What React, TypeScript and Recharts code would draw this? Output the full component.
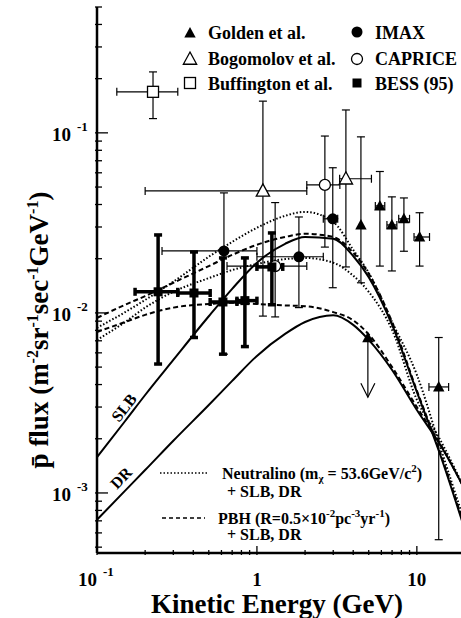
import React from 'react'
import { ComposedChart, Line, Scatter, XAxis, YAxis, ErrorBar } from 'recharts'

// model curves, sampled on one energy grid (GeV)
const curveEnergy = [0.1, 0.15, 0.2, 0.3, 0.5, 0.7, 1, 1.5, 2, 3, 4, 5, 7, 10, 14, 20]
const slbFlux = [0.00158, 0.00251, 0.0035, 0.00548, 0.00958, 0.0136, 0.019, 0.0242, 0.0264, 0.0258, 0.0207, 0.0158, 0.00858, 0.00364, 0.00163, 0.00062]
const drFlux = [0.00071, 0.00103, 0.00134, 0.00195, 0.00308, 0.00419, 0.00577, 0.00764, 0.0089, 0.0097, 0.00858, 0.00708, 0.00482, 0.00289, 0.00185, 0.00104]
const neutralinoSlbFlux = [0.00826, 0.0101, 0.0118, 0.0149, 0.0205, 0.0248, 0.0297, 0.0346, 0.0364, 0.032, 0.0224, 0.0167, 0.0089, 0.00453, 0.0018, 0.00068]
const neutralinoDrFlux = [0.00708, 0.0089, 0.0107, 0.0131, 0.0156, 0.0173, 0.0187, 0.0199, 0.0202, 0.019, 0.0161, 0.0131, 0.00805, 0.00329, 0.00197, 0.00104]
const pbhSlbFlux = [0.00938, 0.0111, 0.0124, 0.0147, 0.0182, 0.021, 0.0239, 0.0264, 0.0275, 0.0264, 0.0216, 0.0165, 0.0089, 0.0037, 0.00167, 0.00064]
const pbhDrFlux = [0.00784, 0.0089, 0.00975, 0.0107, 0.0112, 0.0114, 0.0112, 0.011, 0.0109, 0.0101, 0.0091, 0.0076, 0.005, 0.003, 0.00187, 0.00104]

// measurements: energy, flux, energy range, flux range
const goldenE = [4.47, 5.87, 6.98, 8.3, 10.4, 13.7]
const goldenF = [0.0308, 0.0393, 0.0308, 0.0333, 0.0264, 0.00388]
const goldenELo = [4.47, 5.5, 6.5, 7.7, 9.6, 11.9]
const goldenEHi = [4.47, 6.3, 7.5, 9.0, 12, 15.8]
const goldenFLo = [0.0147, 0.0182, 0.0171, 0.022, 0.0182, 0.00055]
const goldenFHi = [0.095, 0.061, 0.0441, 0.0435, 0.036, 0.0073]

const goldenLimitE = [4.94]
const goldenLimitF = [0.00727]
const goldenLimitTo = [0.0034]

const imaxE = [0.622, 1.83, 2.98]
const imaxF = [0.0221, 0.0205, 0.0333]
const imaxELo = [0.255, 1.0, 2.6]
const imaxEHi = [1.0, 2.6, 3.2]
const imaxFLo = [0.0059, 0.0107, 0.0138]
const imaxFHi = [0.0464, 0.0341, 0.064]

const bogomolovE = [1.09, 3.6]
const bogomolovF = [0.0476, 0.0556]
const bogomolovELo = [0.2, 3.29]
const bogomolovEHi = [2.05, 5.2]
const bogomolovFLo = [0.0096, 0.018]
const bogomolovFHi = [0.15, 0.134]

const capriceE = [1.3, 2.66]
const capriceF = [0.0182, 0.0514]
const capriceELo = [0.65, 2.05]
const capriceEHi = [2.05, 3.3]
const capriceFLo = [0.0095, 0.0232]
const capriceFHi = [0.041, 0.096]

const buffingtonE = [0.224]
const buffingtonF = [0.169]
const buffingtonELo = [0.133]
const buffingtonEHi = [0.32]
const buffingtonFLo = [0.12]
const buffingtonFHi = [0.218]

const bessE = [0.241, 0.404, 0.613, 0.841, 1.24]
const bessF = [0.0131, 0.0129, 0.0115, 0.0117, 0.018]
const bessELo = [0.173, 0.32, 0.51, 0.75, 1.0]
const bessEHi = [0.32, 0.51, 0.75, 1.0, 1.45]
const bessFLo = [0.0052, 0.0073, 0.0059, 0.0065, 0.0111]
const bessFHi = [0.0271, 0.0218, 0.0202, 0.0202, 0.0278]

// axis ticks
const xTicks = [0.1, 0.2, 0.3, 0.4, 0.5, 0.6, 0.7, 0.8, 0.9, 1, 2, 3, 4, 5, 6, 7, 8, 9, 10, 20]
const xMajor = [0.1, 1, 10]
const xMajorBase = ['10', '1', '10']
const xMajorExp = ['-1', '', '']
const yTicks = [0.0005, 0.0006, 0.0007, 0.0008, 0.0009, 0.001, 0.002, 0.003, 0.004, 0.005, 0.006, 0.007, 0.008, 0.009,
  0.01, 0.02, 0.03, 0.04, 0.05, 0.06, 0.07, 0.08, 0.09, 0.1, 0.2, 0.3, 0.4, 0.5]
const yMajor = [0.001, 0.01, 0.1]
const yMajorBase = ['10', '10', '10']
const yMajorExp = ['-3', '-2', '-1']

const FONT = '"Liberation Serif", "Times New Roman", serif'

const curve = (flux: number[]) => curveEnergy.map((x, i) => ({ x, y: flux[i] }))

const points = (e: number[], f: number[], eLo: number[], eHi: number[], fLo: number[], fHi: number[]) =>
  e.map((x, i) => ({
    x,
    y: f[i],
    ex: [x - eLo[i], eHi[i] - x],
    ey: [f[i] - fLo[i], fHi[i] - f[i]],
  }))

const goldenData = points(goldenE, goldenF, goldenELo, goldenEHi, goldenFLo, goldenFHi)
const imaxData = points(imaxE, imaxF, imaxELo, imaxEHi, imaxFLo, imaxFHi)
const bogomolovData = points(bogomolovE, bogomolovF, bogomolovELo, bogomolovEHi, bogomolovFLo, bogomolovFHi)
const capriceData = points(capriceE, capriceF, capriceELo, capriceEHi, capriceFLo, capriceFHi)
const buffingtonData = points(buffingtonE, buffingtonF, buffingtonELo, buffingtonEHi, buffingtonFLo, buffingtonFHi)
const bessData = points(bessE, bessF, bessELo, bessEHi, bessFLo, bessFHi)
const limitData = goldenLimitE.map((x, i) => ({ x, y: goldenLimitF[i], ey: [goldenLimitF[i] - goldenLimitTo[i], 0] }))
const arrowData = goldenLimitE.map((x, i) => ({ x, y: goldenLimitTo[i] }))

const triPath = (cx: number, cy: number, r: number) =>
  `M${cx},${cy - r} L${cx + r * 0.95},${cy + r * 0.75} L${cx - r * 0.95},${cy + r * 0.75} Z`

const FilledTri = ({ cx, cy }: any) => <path d={triPath(cx, cy, 6)} fill="#000" />
const OpenTri = ({ cx, cy }: any) => <path d={triPath(cx, cy, 7)} fill="#fff" stroke="#000" strokeWidth={1.3} />
const FilledDot = ({ cx, cy }: any) => <circle cx={cx} cy={cy} r={5.5} fill="#000" />
const OpenDot = ({ cx, cy }: any) => <circle cx={cx} cy={cy} r={5.5} fill="#fff" stroke="#000" strokeWidth={1.3} />
const OpenSquare = ({ cx, cy }: any) => <rect x={cx - 5.5} y={cy - 5.5} width={11} height={11} fill="#fff" stroke="#000" strokeWidth={1.3} />
const FilledSquare = ({ cx, cy }: any) => <rect x={cx - 4.5} y={cy - 4.5} width={9} height={9} fill="#000" />
const ArrowHead = ({ cx, cy }: any) => (
  <path d={`M${cx - 7},${cy - 14} L${cx},${cy} L${cx + 7},${cy - 14}`} fill="none" stroke="#000" strokeWidth={1.2} />
)

function XTick({ x, y, payload }: any) {
  const i = xMajor.indexOf(payload.value)
  const major = i >= 0
  return (
    <g>
      <line x1={x} x2={x} y1={y} y2={y - (major ? 9 : 5)} stroke="#000" strokeWidth={1.3} />
      {major && (xMajorExp[i] ? (
        <text x={x - 19} y={y + 31} fontFamily={FONT} fontWeight="bold" fontSize={19} fill="#000">
          {xMajorBase[i]}
          <tspan dx={6} dy={-10} fontSize={13}>{xMajorExp[i]}</tspan>
        </text>
      ) : (
        <text x={x} y={y + 31} textAnchor="middle" fontFamily={FONT} fontWeight="bold" fontSize={19} fill="#000">
          {xMajorBase[i]}
        </text>
      ))}
    </g>
  )
}

function YTick({ x, y, payload }: any) {
  const i = yMajor.indexOf(payload.value)
  const major = i >= 0
  return (
    <g>
      <line x1={x} x2={x + (major ? 13 : 7)} y1={y} y2={y} stroke="#000" strokeWidth={1.3} />
      {major && (
        <text x={52} y={y + 8} fontFamily={FONT} fontWeight="bold" fontSize={19} fill="#000">
          {yMajorBase[i]}
          <tspan dx={6} dy={-10} fontSize={13}>{yMajorExp[i]}</tspan>
        </text>
      )}
    </g>
  )
}

const bold = { fontFamily: FONT, fontWeight: 'bold' as const, fill: '#000' }

function Overlay() {
  return (
    <svg width={461} height={618} style={{ position: 'absolute', left: 0, top: 0, pointerEvents: 'none' }}>
      {/* marker legend */}
      <g {...bold} fontSize={18}>
        <FilledTri cx={190} cy={33} />
        <text x={208} y={39}>Golden et al.</text>
        <FilledDot cx={357} cy={32} />
        <text x={375} y={39}>IMAX</text>
        <OpenTri cx={190} cy={59} />
        <text x={208} y={65}>Bogomolov et al.</text>
        <OpenDot cx={357} cy={59} />
        <text x={375} y={65}>CAPRICE</text>
        <OpenSquare cx={190} cy={83} />
        <text x={208} y={90}>Buffington et al.</text>
        <FilledSquare cx={357} cy={83} />
        <text x={375} y={90}>BESS (95)</text>
      </g>
      {/* line legend */}
      <line x1={160} x2={208} y1={473} y2={473} stroke="#000" strokeWidth={1.6} strokeDasharray="1.5 2" />
      <text x={222} y={479} {...bold} fontSize={16}>
        Neutralino (m<tspan dy={3} fontSize={11}>χ</tspan><tspan dy={-3}> = 53.6GeV/c</tspan>
        <tspan dy={-7} fontSize={11}>2</tspan><tspan dy={7}>)</tspan>
      </text>
      <text x={227} y={497} {...bold} fontSize={16}>+ SLB, DR</text>
      <line x1={162} x2={205} y1={518} y2={518} stroke="#000" strokeWidth={1.6} strokeDasharray="4 3" />
      <text x={218} y={524} {...bold} fontSize={16}>
        PBH (R=0.5×10<tspan dy={-7} fontSize={11}>-2</tspan><tspan dy={7}>pc</tspan>
        <tspan dy={-7} fontSize={11}>-3</tspan><tspan dy={7}>yr</tspan>
        <tspan dy={-7} fontSize={11}>-1</tspan><tspan dy={7}>)</tspan>
      </text>
      <text x={227} y={540} {...bold} fontSize={16}>+ SLB, DR</text>
      {/* curve labels */}
      <text x={0} y={0} {...bold} fontSize={16} transform="translate(119,423) rotate(-52)">SLB</text>
      <text x={0} y={0} {...bold} fontSize={16} transform="translate(117,490) rotate(-46)">DR</text>
      {/* axis titles */}
      <text x={277} y={613} textAnchor="middle" {...bold} fontSize={27}>Kinetic Energy (GeV)</text>
      <text x={0} y={0} textAnchor="middle" {...bold} fontSize={27} transform="translate(48,330) rotate(-90)">
        p̄ flux (m<tspan dy={-10} fontSize={16}>-2</tspan><tspan dy={10}>sr</tspan>
        <tspan dy={-10} fontSize={16}>-1</tspan><tspan dy={10}>sec</tspan>
        <tspan dy={-10} fontSize={16}>-1</tspan><tspan dy={10}>GeV</tspan>
        <tspan dy={-10} fontSize={16}>-1</tspan><tspan dy={10}>)</tspan>
      </text>
    </svg>
  )
}

export default function App() {
  const thin = { stroke: '#000', strokeWidth: 1.2 }
  return (
    <div style={{ position: 'absolute', left: 0, top: 0, width: 461, height: 618, overflow: 'hidden', background: '#fff' }}>
      <ComposedChart width={465} height={618} margin={{ top: 7, right: 0, bottom: 0, left: 0 }}>
        <XAxis
          dataKey="x"
          type="number"
          scale="log"
          domain={[0.1, 20]}
          allowDataOverflow
          ticks={xTicks}
          interval={0}
          tick={<XTick />}
          tickLine={false}
          tickSize={0}
          height={65}
          axisLine={{ stroke: '#000', strokeWidth: 2.5 }}
        />
        <XAxis
          xAxisId="top"
          orientation="top"
          dataKey="x"
          type="number"
          scale="log"
          domain={[0.1, 20]}
          allowDataOverflow
          tick={false}
          tickLine={false}
          height={0}
          axisLine={{ stroke: '#000', strokeWidth: 2.5 }}
        />
        <YAxis
          dataKey="y"
          type="number"
          scale="log"
          domain={[0.000464, 0.5]}
          allowDataOverflow
          ticks={yTicks}
          interval={0}
          tick={<YTick />}
          tickLine={false}
          tickSize={0}
          width={97}
          axisLine={{ stroke: '#000', strokeWidth: 2.5 }}
        />

        <Line data={curve(slbFlux)} dataKey="y" type="monotone" stroke="#000" strokeWidth={2} dot={false} isAnimationActive={false} />
        <Line data={curve(drFlux)} dataKey="y" type="monotone" stroke="#000" strokeWidth={2} dot={false} isAnimationActive={false} />
        <Line data={curve(neutralinoSlbFlux)} dataKey="y" type="monotone" stroke="#000" strokeWidth={2} strokeDasharray="1.5 2" dot={false} isAnimationActive={false} />
        <Line data={curve(neutralinoDrFlux)} dataKey="y" type="monotone" stroke="#000" strokeWidth={2} strokeDasharray="1.5 2" dot={false} isAnimationActive={false} />
        <Line data={curve(pbhSlbFlux)} dataKey="y" type="monotone" stroke="#000" strokeWidth={2} strokeDasharray="5 3" dot={false} isAnimationActive={false} />
        <Line data={curve(pbhDrFlux)} dataKey="y" type="monotone" stroke="#000" strokeWidth={2} strokeDasharray="5 3" dot={false} isAnimationActive={false} />

        <Scatter data={buffingtonData} shape={<OpenSquare />} isAnimationActive={false}>
          <ErrorBar dataKey="ex" direction="x" width={4} {...thin} />
          <ErrorBar dataKey="ey" direction="y" width={4} {...thin} />
        </Scatter>
        <Scatter data={bogomolovData} shape={<OpenTri />} isAnimationActive={false}>
          <ErrorBar dataKey="ex" direction="x" width={4} {...thin} />
          <ErrorBar dataKey="ey" direction="y" width={4} {...thin} />
        </Scatter>
        <Scatter data={capriceData} shape={<OpenDot />} isAnimationActive={false}>
          <ErrorBar dataKey="ex" direction="x" width={4} {...thin} />
          <ErrorBar dataKey="ey" direction="y" width={4} {...thin} />
        </Scatter>
        <Scatter data={imaxData} shape={<FilledDot />} isAnimationActive={false}>
          <ErrorBar dataKey="ex" direction="x" width={4} {...thin} />
          <ErrorBar dataKey="ey" direction="y" width={4} {...thin} />
        </Scatter>
        <Scatter data={goldenData} shape={<FilledTri />} isAnimationActive={false}>
          <ErrorBar dataKey="ex" direction="x" width={4} {...thin} />
          <ErrorBar dataKey="ey" direction="y" width={4} {...thin} />
        </Scatter>
        <Scatter data={limitData} shape={<FilledTri />} isAnimationActive={false}>
          <ErrorBar dataKey="ey" direction="y" width={0} {...thin} />
        </Scatter>
        <Scatter data={arrowData} shape={<ArrowHead />} isAnimationActive={false} />
        <Scatter data={bessData} shape={<FilledSquare />} isAnimationActive={false}>
          <ErrorBar dataKey="ex" direction="x" width={4} stroke="#000" strokeWidth={3.5} />
          <ErrorBar dataKey="ey" direction="y" width={4} stroke="#000" strokeWidth={3.5} />
        </Scatter>
      </ComposedChart>
      <Overlay />
    </div>
  )
}
